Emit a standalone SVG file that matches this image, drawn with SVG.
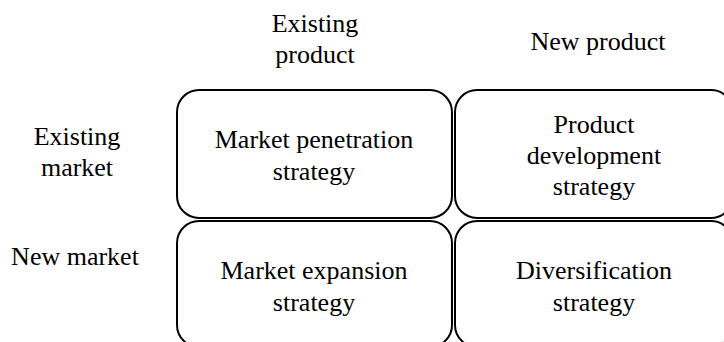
<svg xmlns="http://www.w3.org/2000/svg" width="724" height="342" viewBox="0 0 724 342">
  <style>
    .cell { fill: #ffffff; stroke: #000000; stroke-width: 2; }
    .t { font-family: "Liberation Serif", "Times New Roman", serif; font-size: 26px; fill: #000000; text-anchor: middle; }
  </style>
  <rect width="724" height="342" fill="#ffffff"/>

  <!-- column headers -->
  <g id="head-existing-product">
    <text class="t" x="315" y="32">Existing</text>
    <text class="t" x="315" y="63">product</text>
  </g>
  <g id="head-new-product">
    <text class="t" x="598" y="50">New product</text>
  </g>

  <!-- row headers -->
  <g id="head-existing-market">
    <text class="t" x="77" y="145">Existing</text>
    <text class="t" x="77" y="176">market</text>
  </g>
  <g id="head-new-market">
    <text class="t" x="75" y="265">New market</text>
  </g>

  <!-- strategy cells -->
  <g id="market-penetration">
    <rect class="cell" x="177" y="90" width="275" height="128" rx="22"/>
    <text class="t" x="314" y="148">Market penetration</text>
    <text class="t" x="314" y="180">strategy</text>
  </g>
  <g id="product-development">
    <rect class="cell" x="455" y="90" width="278" height="128" rx="22"/>
    <text class="t" x="594" y="133">Product</text>
    <text class="t" x="594" y="164">development</text>
    <text class="t" x="594" y="195">strategy</text>
  </g>
  <g id="market-expansion">
    <rect class="cell" x="177" y="221" width="275" height="126" rx="22"/>
    <text class="t" x="314" y="279">Market expansion</text>
    <text class="t" x="314" y="311">strategy</text>
  </g>
  <g id="diversification">
    <rect class="cell" x="455" y="221" width="278" height="126" rx="22"/>
    <text class="t" x="594" y="279">Diversification</text>
    <text class="t" x="594" y="311">strategy</text>
  </g>
  <g id="connectors"/>
</svg>
